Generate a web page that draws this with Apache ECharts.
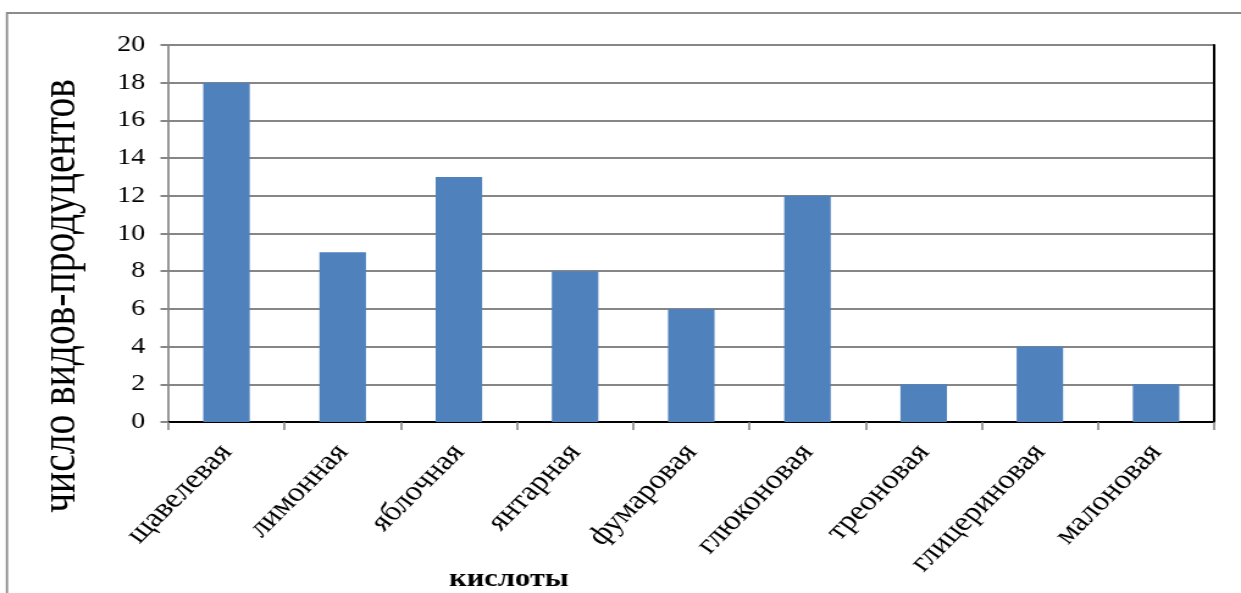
<!DOCTYPE html>
<html>
<head>
<meta charset="utf-8">
<script src="https://cdn.jsdelivr.net/npm/echarts@6/dist/echarts.min.js"></script>
<style>
  html, body { margin: 0; padding: 0; background: #fff; overflow: hidden; }
  /* the figure is drawn narrow and widened to the page, giving its broad lettering */
  #chart { width: 1017px; height: 593px; transform-origin: 0 0; }
</style>
</head>
<body>
<div id="chart"></div>
<script>
// Organic acids and the number of producer species for each
const acids = ['щавелевая', 'лимонная', 'яблочная', 'янтарная', 'фумаровая',
               'глюконовая', 'треоновая', 'глицериновая', 'малоновая'];
const producerCounts = [18, 9, 13, 8, 6, 12, 2, 4, 2];
const yTicks = { min: 0, max: 20, step: 2 };
const yTitle = 'число видов-продуцентов';
const xTitle = 'кислоты';

const PAGE_W = 1241;
const el = document.getElementById('chart');
const S = PAGE_W / 1017;              // horizontal widening factor
el.style.transform = 'scaleX(' + S + ')';

const serif = 'Liberation Serif';
const gridGray = '#868686';

const chart = echarts.init(el, null, { renderer: 'canvas' });

chart.setOption({
  animation: false,
  backgroundColor: '#ffffff',
  grid: { left: 138, right: 22, top: 45, bottom: 171, containLabel: false },
  xAxis: [
    {
      type: 'category',
      data: acids,
      boundaryGap: true,
      axisLine: { lineStyle: { color: gridGray, width: 2 } },
      axisTick: { show: true, alignWithLabel: false, length: 8, lineStyle: { color: gridGray, width: 1.6 } },
      axisLabel: {
        rotate: 50, margin: 26, color: '#000',
        fontFamily: serif, fontSize: 27
      },
      splitLine: { show: false }
    },
    {
      // closing edge of the plot frame along the top
      type: 'category',
      data: acids,
      position: 'top',
      axisLine: { lineStyle: { color: '#000', width: 2 } },
      axisTick: { show: false },
      axisLabel: { show: false }
    }
  ],
  yAxis: [
    {
      type: 'value',
      min: yTicks.min, max: yTicks.max, interval: yTicks.step,
      axisLine: { show: true, lineStyle: { color: gridGray, width: 1.7 } },
      axisTick: { show: true, length: 6.5, lineStyle: { color: gridGray, width: 2 } },
      axisLabel: { margin: 19, color: '#000', fontFamily: serif, fontSize: 23 },
      splitLine: { show: true, lineStyle: { color: gridGray, width: 2 } }
    },
    {
      // closing edge of the plot frame on the right
      type: 'value',
      position: 'right',
      min: yTicks.min, max: yTicks.max, interval: yTicks.step,
      axisLine: { show: true, lineStyle: { color: '#000', width: 2 } },
      axisTick: { show: false },
      axisLabel: { show: false },
      splitLine: { show: false }
    }
  ],
  series: [
    {
      type: 'bar',
      data: producerCounts,
      barWidth: '40%',
      itemStyle: { color: '#4F81BD' },
      z: 3
    }
  ],
  graphic: [
    {
      type: 'rect',
      silent: true,
      shape: { x: 5.7, y: 13, width: 1100, height: 620 },
      style: { fill: 'none', stroke: '#8c8c8c', lineWidth: 1.8 }
    },
    {
      type: 'text',
      x: 51, y: 296,
      rotation: Math.PI / 2,
      style: {
        text: yTitle, fill: '#000',
        fontFamily: serif, fontSize: 39.5,
        align: 'center', verticalAlign: 'middle'
      }
    },
    {
      type: 'text',
      x: 417, y: 580,
      style: {
        text: xTitle, fill: '#000',
        fontFamily: serif, fontSize: 25, fontWeight: 'bold',
        align: 'center', verticalAlign: 'middle'
      }
    }
  ]
});
</script>
</body>
</html>
